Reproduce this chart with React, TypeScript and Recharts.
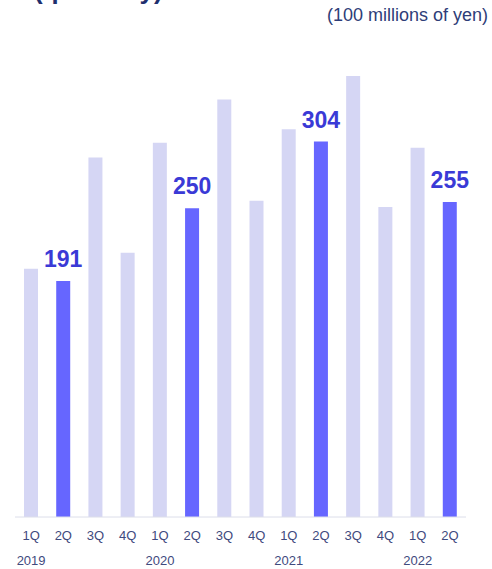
import { BarChart, Bar, XAxis, YAxis, Cell, LabelList } from 'recharts';

const quarters = ['1Q', '2Q', '3Q', '4Q', '1Q', '2Q', '3Q', '4Q', '1Q', '2Q', '3Q', '4Q', '1Q', '2Q'];
const years = ['2019', '', '', '', '2020', '', '', '', '2021', '', '', '', '2022', ''];
const sales = [201, 191, 291, 214, 303, 250, 338, 256, 314, 304, 357, 251, 299, 255];

const data = quarters.map((q, i) => ({ key: `${q}-${i}`, quarter: q, year: years[i], value: sales[i] }));

const LIGHT = '#d5d6f4';
const DARK = '#6666ff';
const TICK = '#3f4a7e';
const FONT = 'Liberation Sans, Arial, sans-serif';

// quarter on first line, year under each 1Q
function QuarterTick({ x, y, payload }: any) {
  const d = data[payload.index];
  return (
    <g>
      <text x={x} y={y + 15} textAnchor="middle" fontSize={13} fill={TICK} fontFamily={FONT}>
        {d.quarter}
      </text>
      {d.year && (
        <text x={x} y={y + 40} textAnchor="middle" fontSize={13} fill={TICK} fontFamily={FONT}>
          {d.year}
        </text>
      )}
    </g>
  );
}

function ValueLabel({ x, y, width, value, index }: any) {
  if (data[index].quarter !== '2Q') return null;
  return (
    <text x={x + width / 2} y={y - 14} textAnchor="middle" fontSize={23} fontWeight="bold" fill="#3a3ad6" fontFamily={FONT}>
      {value}
    </text>
  );
}

export default function App() {
  return (
    <div style={{ position: 'fixed', left: 0, top: 0, width: 492, height: 569, background: '#fff' }}>
      <svg width={492} height={569} style={{ position: 'absolute', left: 0, top: 0 }}>
        <text x={34} y={-1} fontSize={26} fontWeight="bold" fill="#1f2f6e" fontFamily={FONT}>
          (quarterly)
        </text>
        <text x={488} y={21} textAnchor="end" fontSize={18} fill="#2e3d78" fontFamily={FONT}>
          (100 millions of yen)
        </text>
      </svg>
      <div style={{ position: 'absolute', left: 0, top: 0 }}>
        <BarChart width={492} height={569} data={data} margin={{ top: 23, right: 26, bottom: 0, left: 15 }}>
          <XAxis
            dataKey="key"
            height={52}
            interval={0}
            tickLine={false}
            axisLine={{ stroke: '#dcdeea' }}
            tick={<QuarterTick />}
          />
          <YAxis hide domain={[0, 400]} />
          <Bar dataKey="value" barSize={14} isAnimationActive={false}>
            {data.map((d) => (
              <Cell key={d.key} fill={d.quarter === '2Q' ? DARK : LIGHT} />
            ))}
            <LabelList dataKey="value" content={<ValueLabel />} />
          </Bar>
        </BarChart>
      </div>
    </div>
  );
}
